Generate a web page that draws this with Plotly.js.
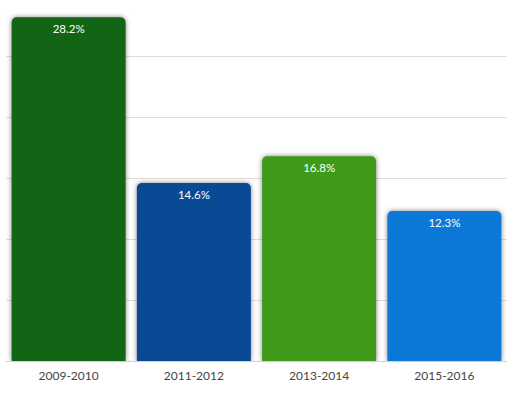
<!DOCTYPE html>
<html><head><meta charset="utf-8">
<script src="https://cdn.plot.ly/plotly-3.0.1.min.js"></script>
<style>
body{margin:0;background:#fff}
#chart{width:512px;height:396px}
.bars .point path{filter:drop-shadow(0px 0px 2.5px rgba(0,0,0,0.5));}
</style></head>
<body><div id="chart"></div>
<script>
var categories = ["2009-2010","2011-2012","2013-2014","2015-2016"];
var values = [28.2, 14.6, 16.8, 12.3];
var labels = ["28.2%","14.6%","16.8%","12.3%"];
var colors = ["#136516","#0a4a95","#3f9a1a","#0b78d7"];

var trace = {
  type:"bar", x:categories, y:values, text:labels,
  textposition:"inside", insidetextanchor:"end", textangle:0,
  textfont:{color:"#ffffff", size:11.5, family:"Lato, 'Open Sans', sans-serif"},
  marker:{color:colors, cornerradius:5, line:{width:0}},
  hoverinfo:"none", width:0.91
};
var layout = {
  width:512, height:396,
  margin:{l:6, r:5, t:10, b:35},
  paper_bgcolor:"#fff", plot_bgcolor:"#fff",
  showlegend:false,
  xaxis:{showgrid:false, showline:false, ticks:"", ticklabelstandoff:6, tickfont:{size:12, color:"#444", family:"Lato, 'Open Sans', sans-serif"}},
  yaxis:{range:[0,28.8], dtick:5, showticklabels:false, gridcolor:"#dedede", gridwidth:1, zeroline:true, zerolinecolor:"#d0d0d0", zerolinewidth:1, fixedrange:true},
  uniformtext:{mode:false}
};
Plotly.newPlot("chart",[trace],layout,{displayModeBar:false, staticPlot:true});
</script></body></html>
